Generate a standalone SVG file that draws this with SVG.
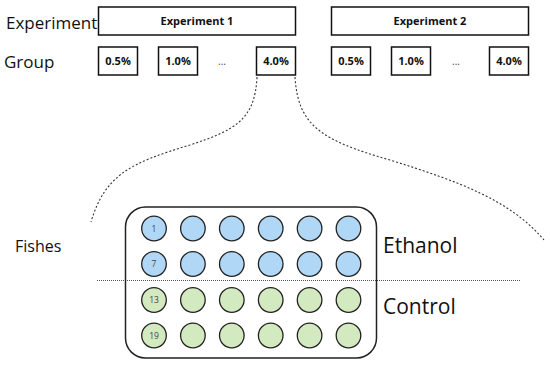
<svg xmlns="http://www.w3.org/2000/svg" width="550" height="365" viewBox="0 0 550 365">
<style>
.lbl{font-family:"Open Sans","Liberation Sans",sans-serif;fill:#111}
.box{fill:#fff;stroke:#111;stroke-width:1.5}
.bt{font-family:"Open Sans","Liberation Sans",sans-serif;font-weight:bold;font-size:11px;fill:#111;text-anchor:middle}
.dots{font-family:"Open Sans","Liberation Sans",sans-serif;font-size:10px;fill:#444;text-anchor:middle}
.eth{fill:#b0d8f6;stroke:#222;stroke-width:1.3}
.ctl{fill:#d3e9c0;stroke:#222;stroke-width:1.3}
.num{font-family:"Open Sans","Liberation Sans",sans-serif;font-size:8.5px;fill:#444;text-anchor:middle}
.link{fill:none;stroke:#333;stroke-width:1.1;stroke-dasharray:2 2}
</style>
<rect width="550" height="365" fill="#fff"/>
<g id="labels">
<text class="lbl" x="6" y="29" font-size="17">Experiment</text>
<text class="lbl" x="4" y="68" font-size="17">Group</text>
<text class="lbl" x="15" y="252" font-size="16">Fishes</text>
</g>
<g id="connectors">
<path class="link" d="M257,77 C255,120 235,130 190,145 C130,163 105,175 91,222"/>
<path class="link" d="M295,77 C298,125 320,140 390,160 C460,182 510,200 544,240"/>
<path d="M97,280.5 H521" fill="none" stroke="#555" stroke-width="1" stroke-dasharray="1 1"/>
</g>
<g id="exp1">
<rect class="box" x="98.5" y="7" width="197" height="28"/>
<text class="bt" x="197" y="25">Experiment 1</text>
</g>
<g id="exp2">
<rect class="box" x="331.5" y="7" width="197" height="28"/>
<text class="bt" x="430" y="25">Experiment 2</text>
</g>
<g id="g1-05"><rect class="box" x="98.5" y="47" width="39" height="28"/><text class="bt" x="118" y="65">0.5%</text></g>
<g id="g1-10"><rect class="box" x="158.5" y="47" width="39" height="28"/><text class="bt" x="178" y="65">1.0%</text></g>
<text class="dots" x="222" y="65">...</text>
<g id="g1-40"><rect class="box" x="256.5" y="47" width="39" height="28"/><text class="bt" x="276" y="65">4.0%</text></g>
<g id="g2-05"><rect class="box" x="331.5" y="47" width="39" height="28"/><text class="bt" x="351" y="65">0.5%</text></g>
<g id="g2-10"><rect class="box" x="391.5" y="47" width="39" height="28"/><text class="bt" x="411" y="65">1.0%</text></g>
<text class="dots" x="456" y="65">...</text>
<g id="g2-40"><rect class="box" x="489.5" y="47" width="39" height="28"/><text class="bt" x="509" y="65">4.0%</text></g>
<g id="tank">
<rect x="125.5" y="207" width="251" height="151" rx="20" fill="none" stroke="#222" stroke-width="1.5"/>
</g>
<g id="fish-ethanol">
<circle class="eth" cx="154" cy="228.5" r="12.3"/><circle class="eth" cx="192.9" cy="228.5" r="12.3"/><circle class="eth" cx="231.8" cy="228.5" r="12.3"/><circle class="eth" cx="270.7" cy="228.5" r="12.3"/><circle class="eth" cx="309.6" cy="228.5" r="12.3"/><circle class="eth" cx="348.5" cy="228.5" r="12.3"/>
<circle class="eth" cx="154" cy="264" r="12.3"/><circle class="eth" cx="192.9" cy="264" r="12.3"/><circle class="eth" cx="231.8" cy="264" r="12.3"/><circle class="eth" cx="270.7" cy="264" r="12.3"/><circle class="eth" cx="309.6" cy="264" r="12.3"/><circle class="eth" cx="348.5" cy="264" r="12.3"/>
<text class="num" x="154" y="231.5">1</text>
<text class="num" x="154" y="267">7</text>
<text class="lbl" x="383" y="253" font-size="21">Ethanol</text>
</g>
<g id="fish-control">
<circle class="ctl" cx="154" cy="300" r="12.3"/><circle class="ctl" cx="192.9" cy="300" r="12.3"/><circle class="ctl" cx="231.8" cy="300" r="12.3"/><circle class="ctl" cx="270.7" cy="300" r="12.3"/><circle class="ctl" cx="309.6" cy="300" r="12.3"/><circle class="ctl" cx="348.5" cy="300" r="12.3"/>
<circle class="ctl" cx="154" cy="335.5" r="12.3"/><circle class="ctl" cx="192.9" cy="335.5" r="12.3"/><circle class="ctl" cx="231.8" cy="335.5" r="12.3"/><circle class="ctl" cx="270.7" cy="335.5" r="12.3"/><circle class="ctl" cx="309.6" cy="335.5" r="12.3"/><circle class="ctl" cx="348.5" cy="335.5" r="12.3"/>
<text class="num" x="154" y="303">13</text>
<text class="num" x="154" y="338.5">19</text>
<text class="lbl" x="383" y="313.5" font-size="21">Control</text>
</g>
</svg>
